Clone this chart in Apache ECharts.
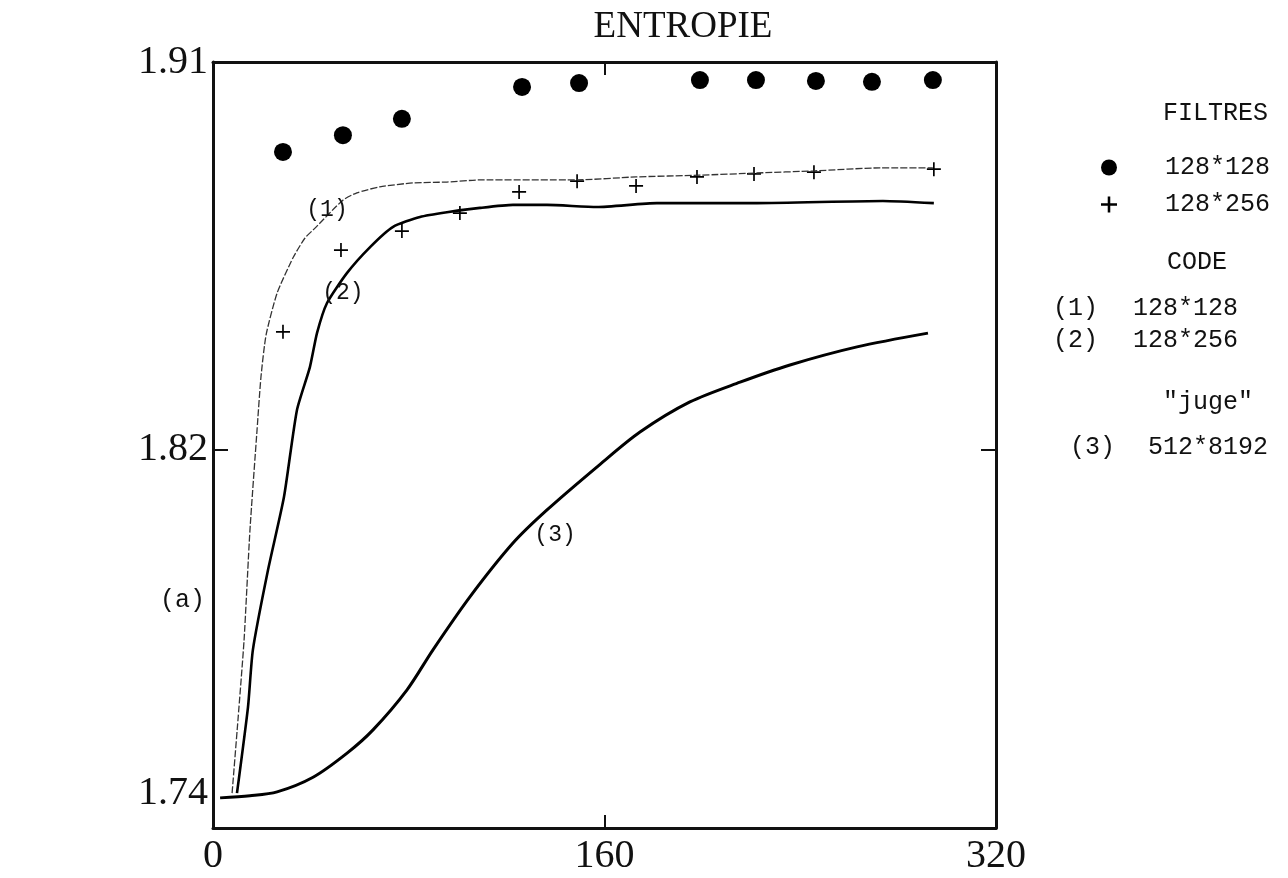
<!DOCTYPE html>
<html>
<head>
<meta charset="utf-8">
<title>ENTROPIE</title>
<script src="https://cdn.jsdelivr.net/npm/echarts@6/dist/echarts.min.js"></script>
<style>
  html, body { margin: 0; padding: 0; background: #fff; }
  #chart { width: 1288px; height: 878px; }
</style>
</head>
<body>
<div id="chart"></div>
<script>
// valeurs (x, entropie)
const filtre128x128 = [
  [28.6, 1.8891], [53.1, 1.8930], [77.2, 1.8968], [126.3, 1.9042], [149.6, 1.9051],
  [199.0, 1.9058], [221.9, 1.9058], [246.4, 1.9056], [269.3, 1.9054], [294.2, 1.9058]
]
const filtre128x256 = [
  [28.6, 1.8473], [52.3, 1.8663], [77.2, 1.8707], [100.9, 1.8749], [125.1, 1.8798],
  [148.8, 1.8823], [172.9, 1.8812], [197.8, 1.8833], [221.1, 1.8840], [245.6, 1.8844],
  [294.6, 1.8851]
]
const code128x128 = [
  [7.8, 1.7401], [10.2, 1.7571], [12.7, 1.7757], [15.1, 1.8012], [18.0, 1.8245],
  [19.6, 1.8368], [21.7, 1.8466], [26.2, 1.8563], [32.7, 1.8645], [37.6, 1.8691],
  [41.7, 1.8714], [53.1, 1.8779], [58.8, 1.8796], [68.2, 1.8810], [81.7, 1.8819],
  [95.6, 1.8821], [109.1, 1.8826], [148.8, 1.8826], [172.9, 1.8833], [199.0, 1.8837],
  [221.9, 1.8842], [246.0, 1.8847], [272.6, 1.8854], [294.2, 1.8854]
]
const code128x256 = [
  [9.8, 1.7401], [14.3, 1.7601], [16.3, 1.7734], [22.5, 1.7920], [29.0, 1.8089],
  [34.3, 1.8291], [39.6, 1.8391], [42.5, 1.8470], [46.6, 1.8540], [54.8, 1.8610],
  [64.2, 1.8670], [73.6, 1.8717], [84.6, 1.8740], [95.6, 1.8751], [109.1, 1.8761],
  [122.6, 1.8768], [136.5, 1.8768], [156.9, 1.8763], [181.4, 1.8772], [222.3, 1.8772],
  [273.8, 1.8777], [294.6, 1.8772]
]
const juge512x8192 = [
  [2.9, 1.7390], [15.1, 1.7395], [26.2, 1.7404], [40.9, 1.7438], [54.8, 1.7494],
  [65.4, 1.7548], [79.3, 1.7641], [89.9, 1.7734], [105.0, 1.7857], [122.6, 1.7982],
  [136.5, 1.8059], [158.2, 1.8165], [174.5, 1.8240], [194.9, 1.8310], [215.4, 1.8356],
  [235.8, 1.8396], [263.2, 1.8438], [292.2, 1.8470]
]
const yTickLabels = [1.74, 1.82, 1.91]
const yInnerTicks = [1.82]
const curveTags = [['(1)', 46.6, 1.8756], ['(2)', 53.1, 1.8563], ['(3)', 139.8, 1.8001]]

const serif = '"Liberation Serif", "DejaVu Serif", serif'
const mono = '"Liberation Mono", "DejaVu Sans Mono", monospace'
const plusIcon = 'path://M4.2,0H5.8V4.2H10V5.8H5.8V10H4.2V5.8H0V4.2H4.2Z'
const thinPlus = 'path://M0,4.4H10V5.6H0Z M4.4,0H5.6V10H4.4Z'

const chart = echarts.init(document.getElementById('chart'))

function tagPoint(i) {
  return {
    silent: true,
    symbol: 'rect',
    symbolSize: 2,
    itemStyle: { color: 'rgba(0,0,0,0)' },
    label: {
      show: true, position: 'inside', formatter: curveTags[i][0],
      color: '#111', fontFamily: mono, fontSize: 23
    },
    data: [{ coord: [curveTags[i][1], curveTags[i][2]] }]
  }
}

const legendText = (text, x, y) => ({
  type: 'text', x: x, y: y,
  style: { text: text, fill: '#111', font: '25px ' + mono, textVerticalAlign: 'middle' }
})

chart.setOption({
  backgroundColor: '#fff',
  animation: false,
  title: {
    text: 'ENTROPIE',
    left: 678, top: 4, textAlign: 'center',
    textStyle: { fontFamily: serif, fontSize: 37, fontWeight: 'normal', color: '#111' }
  },
  grid: { left: 213, right: 292, top: 62, bottom: 50 },
  legend: {
    orient: 'vertical',
    left: 1096, top: 150,
    itemWidth: 16, itemHeight: 20, itemGap: 12,
    textStyle: { fontFamily: mono, fontSize: 25, color: '#111', lineHeight: 20, padding: [0, 0, 0, 43] },
    data: [
      { name: '128*128', icon: 'circle' },
      { name: '128*256', icon: plusIcon }
    ]
  },
  graphic: [
    legendText('FILTRES', 1163, 113),
    legendText('CODE', 1167, 262),
    legendText('(1)', 1053, 308),
    legendText('128*128', 1133, 308),
    legendText('(2)', 1053, 340),
    legendText('128*256', 1133, 340),
    legendText('"juge"', 1163, 402),
    legendText('(3)', 1070, 447),
    legendText('512*8192', 1148, 447),
    legendText('(a)', 160, 600)
  ],
  xAxis: [
    {
      type: 'value', position: 'bottom', min: 0, max: 320, interval: 160,
      axisLine: { show: true, onZero: false, lineStyle: { color: '#111', width: 3 } },
      axisTick: { show: true, inside: true, length: 13, lineStyle: { color: '#111', width: 2 } },
      axisLabel: { fontFamily: serif, fontSize: 40, color: '#111', margin: 8 },
      splitLine: { show: false }
    },
    {
      type: 'value', position: 'top', min: 0, max: 320, interval: 160,
      axisLine: { show: true, onZero: false, lineStyle: { color: '#111', width: 3 } },
      axisTick: { show: true, inside: true, length: 13, lineStyle: { color: '#111', width: 2 } },
      axisLabel: { show: false },
      splitLine: { show: false }
    }
  ],
  yAxis: [
    {
      type: 'value', position: 'left', min: 1.732, max: 1.91,
      axisLine: { show: true, onZero: false, lineStyle: { color: '#111', width: 3 } },
      axisTick: { show: true, inside: true, length: 15, customValues: yInnerTicks, lineStyle: { color: '#111', width: 2 } },
      axisLabel: {
        customValues: yTickLabels, formatter: v => v.toFixed(2),
        fontFamily: serif, fontSize: 40, color: '#111', margin: 5
      },
      splitLine: { show: false }
    },
    {
      type: 'value', position: 'right', min: 1.732, max: 1.91,
      axisLine: { show: true, onZero: false, lineStyle: { color: '#111', width: 3 } },
      axisTick: { show: true, inside: true, length: 15, customValues: yInnerTicks, lineStyle: { color: '#111', width: 2 } },
      axisLabel: { show: false },
      splitLine: { show: false }
    }
  ],
  series: [
    {
      name: '(1) 128*128', type: 'line', data: code128x128, smooth: 0.2,
      showSymbol: false, lineStyle: { color: '#333', width: 1.3, type: [7, 2] },
      markPoint: tagPoint(0)
    },
    {
      name: '(2) 128*256', type: 'line', data: code128x256, smooth: 0.2,
      showSymbol: false, lineStyle: { color: '#000', width: 2.6 },
      markPoint: tagPoint(1)
    },
    {
      name: '(3) 512*8192', type: 'line', data: juge512x8192, smooth: 0.3,
      showSymbol: false, lineStyle: { color: '#000', width: 3 },
      markPoint: tagPoint(2)
    },
    {
      name: '128*128', type: 'scatter', data: filtre128x128,
      symbol: 'circle', symbolSize: 18, itemStyle: { color: '#000', opacity: 1 }
    },
    {
      name: '128*256', type: 'scatter', data: filtre128x256,
      symbol: thinPlus, symbolSize: 14, itemStyle: { color: '#000', opacity: 1 }
    }
  ]
})
</script>
</body>
</html>
